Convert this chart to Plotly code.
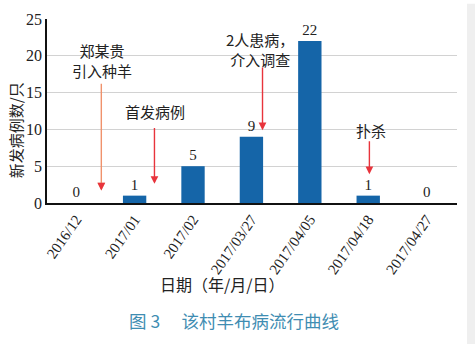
import plotly.graph_objects as go

# Epidemic curve data
dates = ["2016/12", "2017/01", "2017/02", "2017/03/27", "2017/04/05", "2017/04/18", "2017/04/27"]
new_cases = [0, 1, 5, 9, 22, 1, 0]

# Event notes: (category position, label y, text) and arrow (x, tail y, tip y)
note_x = [0.45, 1.35, 3.15, 5.04]
note_y = [19.3, 12.4, 20.9, 9.8]
note_text = ["郑某贵<br>引入种羊", "首发病例", "2人患病，<br>介入调查", "扑杀"]
arrow_x = [0.43, 1.34, 3.19, 5.02]
arrow_tail = [16.4, 10.4, 18.6, 8.6]
arrow_tip = [1.7, 2.6, 9.9, 3.9]
arrow_color = ["#f0926c", "#e8343c", "#e8343c", "#e8343c"]

FONT = "Liberation Serif, Noto Sans CJK SC, serif"

fig = go.Figure(
    go.Bar(
        x=list(range(len(dates))),
        y=new_cases,
        width=0.4,
        marker=dict(color="#1565a8", line=dict(width=0)),
        text=[str(v) for v in new_cases],
        textposition="outside",
        textfont=dict(family=FONT, size=15, color="#222222"),
        cliponaxis=False,
    )
)

annotations = []
for x, y, t in zip(note_x, note_y, note_text):
    annotations.append(dict(
        x=x, y=y, xref="x", yref="y", text=t, showarrow=False,
        xanchor="center", yanchor="middle",
        font=dict(family="Noto Sans CJK SC", size=15, color="#222222"),
    ))
for x, y0, y1, c in zip(arrow_x, arrow_tail, arrow_tip, arrow_color):
    annotations.append(dict(
        x=x, y=y1, ax=x, ay=y0, xref="x", yref="y", axref="x", ayref="y",
        text="", showarrow=True, arrowhead=2, arrowsize=1.1, arrowwidth=1.4,
        arrowcolor=c,
    ))
# red arrowhead on the first (orange) arrow
annotations.append(dict(
    x=arrow_x[0], y=arrow_tip[0], ax=arrow_x[0], ay=arrow_tip[0] + 1.2,
    xref="x", yref="y", axref="x", ayref="y",
    text="", showarrow=True, arrowhead=2, arrowsize=1.1, arrowwidth=1.4,
    arrowcolor="#e8343c",
))

# axis titles and caption
annotations.append(dict(
    x=(15 - 47) / 410, y=(203 - 127) / 192, xref="paper", yref="paper",
    text="新发病例数/只", textangle=-90, showarrow=False,
    xanchor="center", yanchor="middle",
    font=dict(family="Noto Sans CJK SC", size=15, color="#222222"),
))
annotations.append(dict(
    x=(222 - 47) / 410, y=(203 - 288) / 192, xref="paper", yref="paper",
    text="日期（年/月/日）", showarrow=False,
    xanchor="center", yanchor="middle",
    font=dict(family="Noto Sans CJK SC", size=16, color="#222222"),
))
annotations.append(dict(
    x=(234 - 47) / 410, y=(203 - 326) / 192, xref="paper", yref="paper",
    text="图 3\u3000\u00a0该村羊布病流行曲线", showarrow=False,
    xanchor="center", yanchor="middle",
    font=dict(family="Noto Sans CJK SC", size=17.5, color="#3f8db2"),
))

fig.update_layout(
    width=475, height=344,
    margin=dict(l=47, r=18, t=11, b=141),
    paper_bgcolor="white", plot_bgcolor="white",
    showlegend=False,
    bargap=0.6,
    annotations=annotations,
    shapes=[dict(
        type="rect", xref="paper", yref="paper",
        x0=(467 - 47) / 410, x1=(480 - 47) / 410,
        y0=(203 - 350) / 192, y1=(203 + 5) / 192,
        fillcolor="#efefef", line=dict(width=0), layer="below",
    )],
    xaxis=dict(
        range=[-0.5, 6.52],
        tickmode="array", tickvals=list(range(len(dates))), ticktext=dates,
        tickangle=-55,
        tickfont=dict(family=FONT, size=15, color="#222222"),
        showline=True, linecolor="#111111", linewidth=1.5,
        showgrid=False, ticks="", zeroline=False,
    ),
    yaxis=dict(
        range=[0, 25], tickvals=[0, 5, 10, 15, 20, 25],
        tickfont=dict(family=FONT, size=16, color="#222222"),
        showline=True, linecolor="#111111", linewidth=1.5,
        showgrid=True, gridcolor="#d2d2d2", gridwidth=1,
        ticks="", zeroline=False,
    ),
)

fig.write_html("out.html")
